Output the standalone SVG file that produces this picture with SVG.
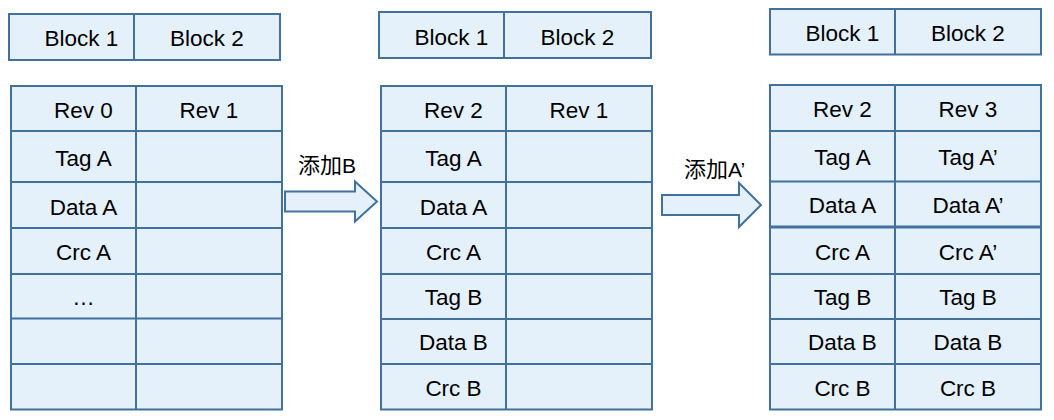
<svg xmlns="http://www.w3.org/2000/svg" width="1054" height="420" viewBox="0 0 1054 420">
<style>
.cell{fill:#E4F0FA;stroke:#41719C;stroke-width:2}
.ln{stroke:#41719C;stroke-width:2;fill:none}
.ln3{stroke:#41719C;stroke-width:3;fill:none}
text{font-family:"Liberation Sans","Noto Sans CJK SC",Arial,sans-serif;font-size:22.5px;fill:#000;text-anchor:middle}
.lbl{text-anchor:start;font-size:21px}
.cjk{font-size:22px}
.arrow{fill:#E4F0FA;stroke:#41719C;stroke-width:2;stroke-linejoin:miter}
</style>
<rect width="1054" height="420" fill="#FFFFFF"/>

<g id="blocks-1">
<rect class="cell" x="9" y="14" width="271" height="46"/>
<line class="ln" x1="134" y1="14" x2="134" y2="60"/>
<text x="81.5" y="46">Block 1</text>
<text x="207" y="46">Block 2</text>
</g>

<g id="revs-1">
<rect class="cell" x="11" y="86" width="271" height="323.5"/>
<line class="ln" x1="136" y1="86" x2="136" y2="409.5"/>
<line class="ln" x1="11" y1="131" x2="282" y2="131"/>
<line class="ln" x1="11" y1="182" x2="282" y2="182"/>
<line class="ln" x1="11" y1="228" x2="282" y2="228"/>
<line class="ln" x1="11" y1="274" x2="282" y2="274"/>
<line class="ln" x1="11" y1="318.5" x2="282" y2="318.5"/>
<line class="ln" x1="11" y1="364" x2="282" y2="364"/>
<text x="83.5" y="118">Rev 0</text>
<text x="209" y="118">Rev 1</text>
<text x="83.5" y="166">Tag A</text>
<text x="83.5" y="215">Data A</text>
<text x="83.5" y="260">Crc A</text>
<text x="83.5" y="305">…</text>
</g>

<g id="blocks-2">
<rect class="cell" x="379" y="12" width="272" height="46"/>
<line class="ln" x1="504" y1="12" x2="504" y2="58"/>
<text x="451.5" y="44.5">Block 1</text>
<text x="577.5" y="44.5">Block 2</text>
</g>

<g id="revs-2">
<rect class="cell" x="381" y="86" width="271" height="323.5"/>
<line class="ln" x1="506" y1="86" x2="506" y2="409.5"/>
<line class="ln" x1="381" y1="131" x2="652" y2="131"/>
<line class="ln" x1="381" y1="182" x2="652" y2="182"/>
<line class="ln" x1="381" y1="228" x2="652" y2="228"/>
<line class="ln" x1="381" y1="274" x2="652" y2="274"/>
<line class="ln" x1="381" y1="319" x2="652" y2="319"/>
<line class="ln" x1="381" y1="364" x2="652" y2="364"/>
<text x="453.5" y="118">Rev 2</text>
<text x="579" y="118">Rev 1</text>
<text x="453.5" y="166">Tag A</text>
<text x="453.5" y="215">Data A</text>
<text x="453.5" y="260">Crc A</text>
<text x="453.5" y="305">Tag B</text>
<text x="453.5" y="350">Data B</text>
<text x="453.5" y="396">Crc B</text>
</g>

<g id="blocks-3">
<rect class="cell" x="770" y="9" width="271" height="45.5"/>
<line class="ln" x1="895" y1="9" x2="895" y2="54.5"/>
<text x="842.5" y="41">Block 1</text>
<text x="968" y="41">Block 2</text>
</g>

<g id="revs-3">
<rect class="cell" x="770" y="85" width="271" height="324.5"/>
<line class="ln" x1="895" y1="85" x2="895" y2="409.5"/>
<line class="ln" x1="770" y1="131" x2="1041" y2="131"/>
<line class="ln" x1="770" y1="181.5" x2="1041" y2="181.5"/>
<line class="ln3" x1="770" y1="227" x2="1041" y2="227"/>
<line class="ln" x1="770" y1="274" x2="1041" y2="274"/>
<line class="ln" x1="770" y1="319" x2="1041" y2="319"/>
<line class="ln" x1="770" y1="364" x2="1041" y2="364"/>
<text x="842.5" y="117">Rev 2</text>
<text x="968" y="117">Rev 3</text>
<text x="842.5" y="165">Tag A</text>
<text x="968" y="165">Tag A’</text>
<text x="842.5" y="213">Data A</text>
<text x="968" y="213">Data A’</text>
<text x="842.5" y="259.5">Crc A</text>
<text x="968" y="259.5">Crc A’</text>
<text x="842.5" y="305">Tag B</text>
<text x="968" y="305">Tag B</text>
<text x="842.5" y="350">Data B</text>
<text x="968" y="350">Data B</text>
<text x="842.5" y="396">Crc B</text>
<text x="968" y="396">Crc B</text>
</g>

<g id="connectors">
<polygon class="arrow" points="285,191.5 355,191.5 355,181.5 377,201.5 355,221.5 355,211.5 285,211.5"/>
<text class="lbl" x="298" y="173"><tspan class="cjk">添加</tspan>B</text>
<polygon class="arrow" points="662,195 739,195 739,183 761,205 739,227 739,215 662,215"/>
<text class="lbl" x="684" y="177"><tspan class="cjk">添加</tspan>A’</text>
</g>
</svg>
